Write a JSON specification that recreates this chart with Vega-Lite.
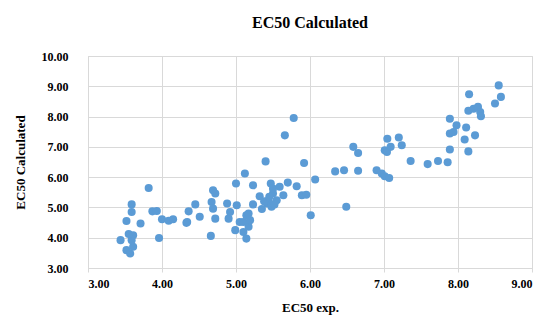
{
  "$schema": "https://vega.github.io/schema/vega-lite/v6.json",
  "width": 444,
  "height": 212,
  "autosize": {"type": "none"},
  "padding": {"left": 88, "top": 56, "right": 17, "bottom": 53},
  "background": "white",
  "title": {
    "text": "EC50 Calculated",
    "font": "Liberation Serif",
    "fontSize": 16,
    "fontWeight": "bold",
    "color": "#000000",
    "anchor": "middle",
    "offset": 19
  },
  "config": {
    "view": {"stroke": "#d9d9d9", "strokeWidth": 1},
    "axis": {
      "labelFont": "Liberation Serif",
      "labelFontSize": 12,
      "labelFontWeight": "bold",
      "labelColor": "#000000",
      "titleFont": "Liberation Serif",
      "titleFontSize": 13,
      "titleFontWeight": "bold",
      "titleColor": "#000000",
      "gridColor": "#d9d9d9",
      "gridWidth": 1,
      "domainColor": "#d9d9d9",
      "tickColor": "#d9d9d9",
      "tickSize": 4
    }
  },
  "data": {
    "values": [
      {"exp": 3.44, "calc": 3.92}, {"exp": 3.52, "calc": 3.59}, {"exp": 3.57, "calc": 3.48},
      {"exp": 3.61, "calc": 3.70}, {"exp": 3.59, "calc": 3.92}, {"exp": 3.61, "calc": 4.08},
      {"exp": 3.55, "calc": 4.12}, {"exp": 3.52, "calc": 4.55}, {"exp": 3.71, "calc": 4.47},
      {"exp": 3.59, "calc": 4.85}, {"exp": 3.59, "calc": 5.10}, {"exp": 3.82, "calc": 5.64},
      {"exp": 3.87, "calc": 4.87}, {"exp": 3.93, "calc": 4.88}, {"exp": 3.96, "calc": 3.99},
      {"exp": 4.00, "calc": 4.61}, {"exp": 4.09, "calc": 4.56}, {"exp": 4.15, "calc": 4.61},
      {"exp": 4.33, "calc": 4.49}, {"exp": 4.36, "calc": 4.87}, {"exp": 4.45, "calc": 5.10},
      {"exp": 4.34, "calc": 4.52}, {"exp": 4.51, "calc": 4.69}, {"exp": 4.66, "calc": 4.06},
      {"exp": 4.67, "calc": 5.18}, {"exp": 4.69, "calc": 4.96}, {"exp": 4.69, "calc": 5.57},
      {"exp": 4.72, "calc": 5.46}, {"exp": 4.72, "calc": 4.63}, {"exp": 4.88, "calc": 5.13},
      {"exp": 4.90, "calc": 4.63}, {"exp": 4.92, "calc": 4.85}, {"exp": 4.99, "calc": 4.25},
      {"exp": 5.00, "calc": 5.79}, {"exp": 5.01, "calc": 5.07}, {"exp": 5.05, "calc": 4.52},
      {"exp": 5.10, "calc": 4.19}, {"exp": 5.10, "calc": 4.52}, {"exp": 5.14, "calc": 3.97},
      {"exp": 5.14, "calc": 4.74}, {"exp": 5.17, "calc": 4.36}, {"exp": 5.19, "calc": 4.58},
      {"exp": 5.17, "calc": 4.80}, {"exp": 5.12, "calc": 6.12}, {"exp": 5.23, "calc": 5.73},
      {"exp": 5.23, "calc": 5.10}, {"exp": 5.32, "calc": 5.37}, {"exp": 5.40, "calc": 6.52},
      {"exp": 5.47, "calc": 5.79}, {"exp": 5.42, "calc": 5.13}, {"exp": 5.44, "calc": 5.24},
      {"exp": 5.48, "calc": 5.02}, {"exp": 5.50, "calc": 5.46}, {"exp": 5.50, "calc": 5.62},
      {"exp": 5.55, "calc": 5.24}, {"exp": 5.59, "calc": 5.68}, {"exp": 5.64, "calc": 5.40},
      {"exp": 5.70, "calc": 5.82}, {"exp": 5.66, "calc": 7.38}, {"exp": 5.78, "calc": 7.95},
      {"exp": 5.82, "calc": 5.70}, {"exp": 5.89, "calc": 5.40}, {"exp": 5.95, "calc": 5.42},
      {"exp": 5.92, "calc": 6.47}, {"exp": 6.01, "calc": 4.74}, {"exp": 6.07, "calc": 5.92},
      {"exp": 5.35, "calc": 4.95}, {"exp": 5.38, "calc": 5.20}, {"exp": 5.45, "calc": 5.35},
      {"exp": 5.52, "calc": 5.10},
      {"exp": 6.34, "calc": 6.19}, {"exp": 6.46, "calc": 6.23}, {"exp": 6.49, "calc": 5.02},
      {"exp": 6.585, "calc": 7.00}, {"exp": 6.65, "calc": 6.80}, {"exp": 6.65, "calc": 6.21},
      {"exp": 6.90, "calc": 6.23}, {"exp": 6.97, "calc": 6.12}, {"exp": 7.01, "calc": 6.03},
      {"exp": 7.07, "calc": 5.97}, {"exp": 7.01, "calc": 6.89}, {"exp": 7.04, "calc": 6.83},
      {"exp": 7.09, "calc": 7.00}, {"exp": 7.045, "calc": 7.27}, {"exp": 7.20, "calc": 7.31},
      {"exp": 7.24, "calc": 7.05}, {"exp": 7.36, "calc": 6.53}, {"exp": 7.59, "calc": 6.43},
      {"exp": 7.73, "calc": 6.53}, {"exp": 7.86, "calc": 6.49}, {"exp": 7.89, "calc": 6.91},
      {"exp": 7.89, "calc": 7.44}, {"exp": 7.94, "calc": 7.49}, {"exp": 7.89, "calc": 7.93},
      {"exp": 7.98, "calc": 7.71}, {"exp": 8.11, "calc": 7.64}, {"exp": 8.09, "calc": 7.24},
      {"exp": 8.23, "calc": 7.38}, {"exp": 8.14, "calc": 6.85}, {"exp": 8.14, "calc": 8.19},
      {"exp": 8.21, "calc": 8.26}, {"exp": 8.27, "calc": 8.32}, {"exp": 8.30, "calc": 8.15},
      {"exp": 8.31, "calc": 8.01}, {"exp": 8.15, "calc": 8.74}, {"exp": 8.50, "calc": 8.43},
      {"exp": 8.58, "calc": 8.65}, {"exp": 8.55, "calc": 9.03}
    ]
  },
  "mark": {"type": "point", "filled": true, "shape": "circle", "size": 65, "color": "#5B9BD5", "opacity": 1},
  "encoding": {
    "x": {
      "field": "exp",
      "type": "quantitative",
      "scale": {"domain": [3, 9], "nice": false, "zero": false},
      "axis": {"title": "EC50 exp.", "format": ".2f", "values": [3, 4, 5, 6, 7, 8, 9], "labelPadding": 6, "titlePadding": 12, "grid": true}
    },
    "y": {
      "field": "calc",
      "type": "quantitative",
      "scale": {"domain": [3, 10], "nice": false, "zero": false},
      "axis": {"title": "EC50 Calculated", "format": ".2f", "values": [3, 4, 5, 6, 7, 8, 9, 10], "labelPadding": 20, "titlePadding": 14, "tickSize": 0, "grid": true}
    }
  }
}
